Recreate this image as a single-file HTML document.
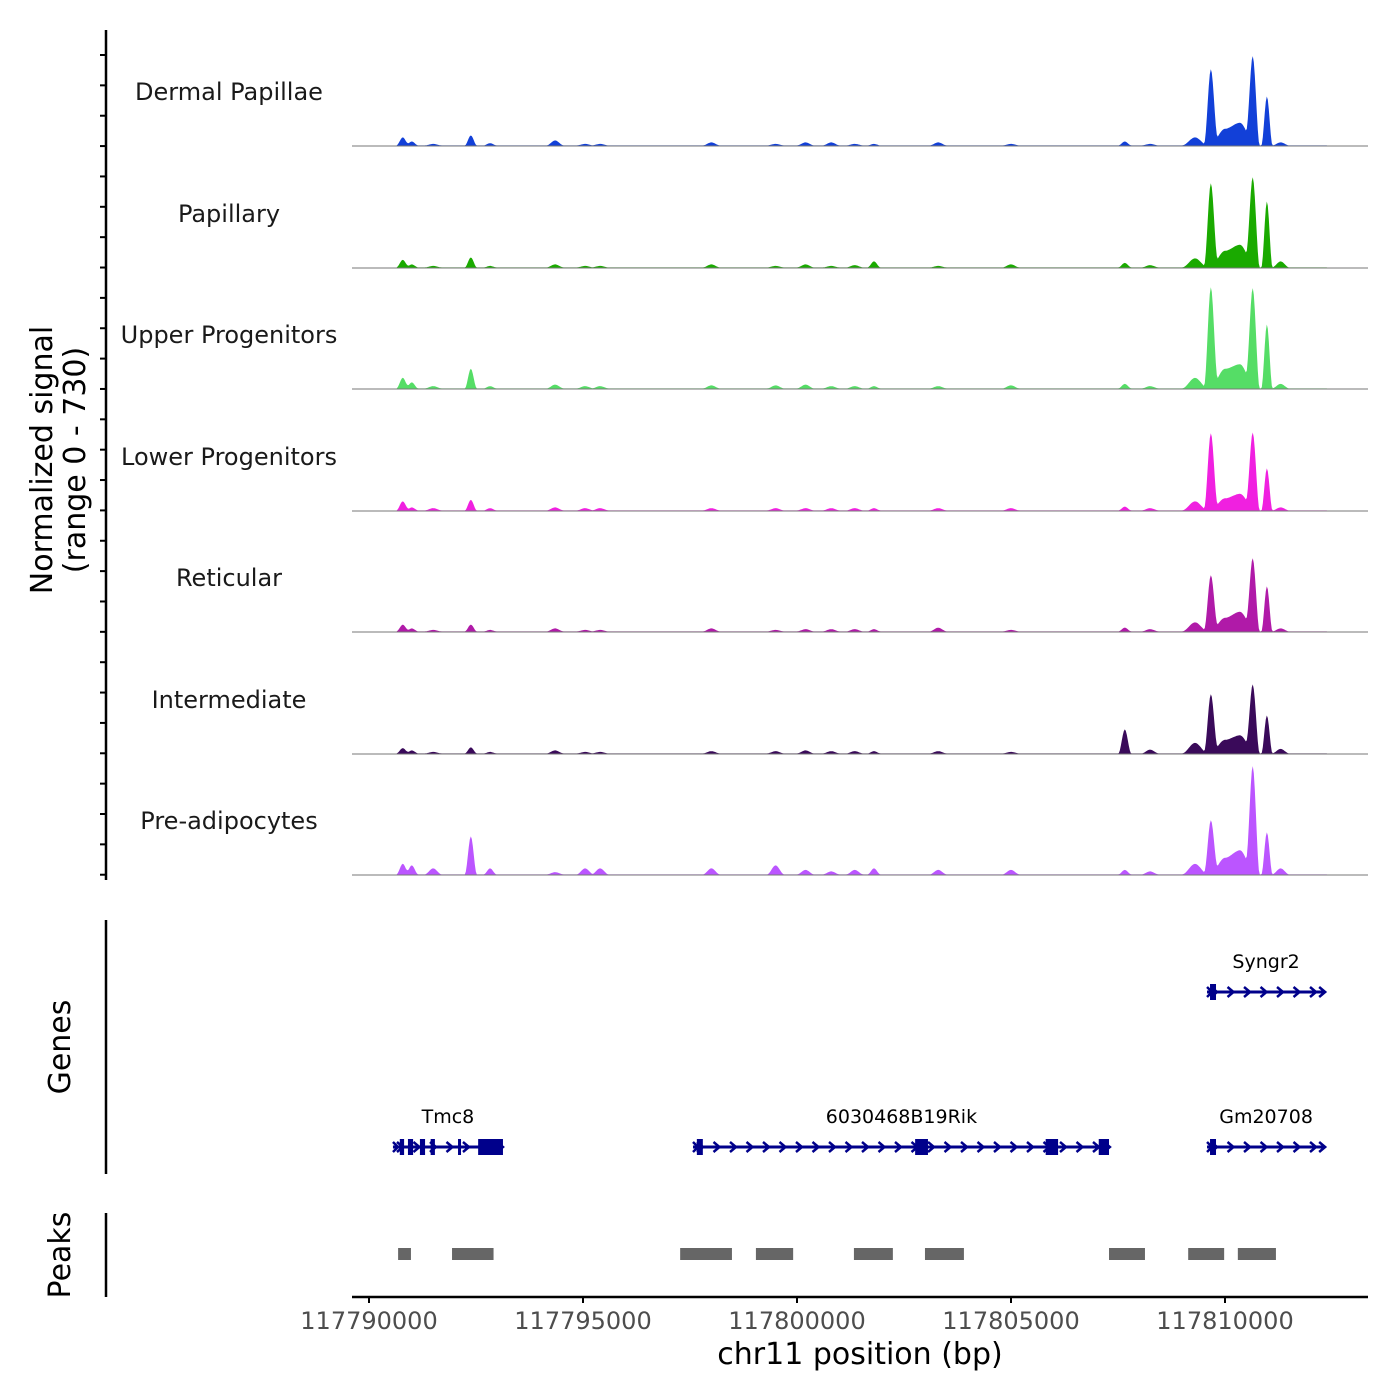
<!DOCTYPE html>
<html><head><meta charset="utf-8"><style>
body{margin:0;background:#fff;}
svg{display:block;font-family:"DejaVu Sans","Liberation Sans",sans-serif;}
</style></head><body>
<svg id="c" width="1400" height="1400" viewBox="0 0 1400 1400"></svg>
<script>
// ---- data ----
const trackNames = ["Dermal Papillae","Papillary","Upper Progenitors","Lower Progenitors","Reticular","Intermediate","Pre-adipocytes"];
const trackColors = ["#1240d8","#1aaa00","#55dd66","#f020e0","#b01aa8","#3a0a5a","#bb55ff"];
// peak positions in kb offset from 117790000
const peakPos = [0.79,1.0,1.5,2.38,2.83,4.35,5.05,5.4,8.0,9.5,10.2,10.8,11.35,11.8,13.3,15.0,17.66,18.25,19.3,19.67,20.0,20.35,20.65,20.98,21.3];
const peakWidth = [0.15,0.15,0.2,0.14,0.15,0.2,0.2,0.2,0.2,0.2,0.2,0.2,0.2,0.15,0.2,0.2,0.15,0.2,0.3,0.16,0.35,0.35,0.16,0.13,0.2];
const sigDermal = [53,26,10,66,15,33,10,10,20,10,20,20,10,10,20,10,26,10,53,504,110,150,584,325,20];
const sigPapillary = [50,20,10,66,10,20,10,10,20,10,20,10,15,40,10,20,30,15,60,557,110,150,590,438,40];
const sigUpper = [70,40,15,130,15,25,15,15,20,20,25,15,15,15,15,20,30,15,70,670,130,160,657,425,30];
const sigLower = [60,20,15,70,15,20,15,15,15,15,15,15,15,15,15,15,25,15,60,511,80,110,511,279,20];
const sigReticular = [45,20,10,45,10,20,10,10,20,10,15,15,15,15,25,10,25,15,60,372,90,130,478,299,20];
const sigIntermediate = [35,20,10,40,10,20,10,10,15,15,20,15,15,15,15,10,159,25,70,392,90,120,451,252,30];
const sigPreadipo = [70,60,40,252,40,15,40,40,40,60,30,20,30,40,30,30,30,20,70,358,110,160,710,279,40];
const trackSignals = [sigDermal,sigPapillary,sigUpper,sigLower,sigReticular,sigIntermediate,sigPreadipo];
const signalMax = 730;
const xTicks = [117790000,117795000,117800000,117805000,117810000];
const peakStarts = [0.68,1.94,7.27,9.04,11.33,12.99,17.29,19.14,20.3];
const peakEnds = [0.98,2.91,8.48,9.91,12.24,13.9,18.13,19.98,21.19];
const genes = [
 {name:"Tmc8",start:0.56,end:3.13,row:1,exS:[0.72,0.91,1.19,1.44,2.08,2.55],exE:[0.82,1.03,1.31,1.54,2.15,3.13]},
 {name:"6030468B19Rik",start:7.57,end:17.31,row:1,exS:[7.66,12.76,15.81,15.93,17.05],exE:[7.80,13.06,16.10,16.03,17.29]},
 {name:"Syngr2",start:19.58,end:22.34,row:0,exS:[19.65],exE:[19.79]},
 {name:"Gm20708",start:19.58,end:22.34,row:1,exS:[19.65],exE:[19.79]}
];
// ---- scales ----
const svg=document.getElementById('c');
const NS="http://www.w3.org/2000/svg";
const X0=369, PXKB=42.8;
function xs(kb){return X0+kb*PXKB;}
function xbp(bp){return xs((bp-117790000)/1000);}
const baselines=[146,268,389,511,632,754,875];
const HT=110;
function ys(v,i){return baselines[i]-v/signalMax*HT;}
function mk(tag,attrs,parent){const e=document.createElementNS(NS,tag);for(const k in attrs)e.setAttribute(k,attrs[k]);(parent||svg).appendChild(e);return e;}
function txt(s,attrs){const e=mk('text',attrs);e.textContent=s;return e;}

// tracks
trackNames.forEach((name,i)=>{
  const sig=trackSignals[i];
  let d="M"+xs(0.65)+","+baselines[i];
  for(let kb=0.65;kb<=22.4;kb+=1/PXKB){
    let v=4;
    for(let j=0;j<peakPos.length;j++){const t=1-Math.abs(kb-peakPos[j])/peakWidth[j];if(t>0)v+=sig[j]*t*t*(3-2*t);}
    d+=" L"+xs(kb).toFixed(1)+","+ys(v,i).toFixed(1);
  }
  d+=" L"+xs(22.4)+","+baselines[i]+" Z";
  const p=mk('path',{d:d,fill:trackColors[i]});
  
  
  const b=mk('line',{x1:352,x2:1368,y1:baselines[i],y2:baselines[i],stroke:'#777','stroke-width':1});
  
  
  const t=txt(name,{x:229,y:baselines[i]-46,'text-anchor':'middle','font-size':24,fill:'#1a1a1a'});
  
  
});
// left axis
mk('line',{x1:106,x2:106,y1:30,y2:880,stroke:'#000','stroke-width':2.5,});
for(let y=55;y<=880;y+=30.36){const tk=mk('line',{x1:100,x2:106,y1:y,y2:y,stroke:'#000','stroke-width':2});}
txt("Normalized signal",{transform:"translate(52,460) rotate(-90)",'text-anchor':'middle','font-size':30,});
txt("(range 0 - 730)",{transform:"translate(85,460) rotate(-90)",'text-anchor':'middle','font-size':30,});
// genes panel
mk('line',{x1:106,x2:106,y1:920,y2:1174,stroke:'#000','stroke-width':2.5,});
txt("Genes",{transform:"translate(70,1047) rotate(-90)",'text-anchor':'middle','font-size':30,});
const rowY=[992,1147];
genes.forEach(g=>{
  const y=rowY[g.row], c='#00008b';
  const grp=mk('g',{});
  
  
  mk('line',{x1:xs(g.start),x2:xs(g.end),y1:y,y2:y,stroke:c,'stroke-width':3},grp);
  for(let x=xs(g.start)+8;x<xs(g.end)-2;x+=16.5){mk('path',{d:`M${x-4},${y-5} L${x+2},${y} L${x-4},${y+5}`,fill:'none',stroke:c,'stroke-width':2.5},grp);}
  mk('path',{d:`M${xs(g.end)-6},${y-5} L${xs(g.end)},${y} L${xs(g.end)-6},${y+5}`,fill:'none',stroke:c,'stroke-width':2.5},grp);
  mk('path',{d:`M${xs(g.start)},${y-5} L${xs(g.start)+5},${y} L${xs(g.start)},${y+5}`,fill:'none',stroke:c,'stroke-width':2.5},grp);
  g.exS.forEach((s,k)=>{const w=Math.max(3,xs(g.exE[k])-xs(s));mk('rect',{x:xs(s),y:y-8,width:w,height:16,fill:c},grp);});
  const t=txt(g.name,{x:(xs(g.start)+xs(g.end))/2,y:y-24,'text-anchor':'middle','font-size':19,fill:'#000'});
  
  
});
// peaks panel
mk('line',{x1:106,x2:106,y1:1213,y2:1297,stroke:'#000','stroke-width':2.5,});
txt("Peaks",{transform:"translate(70,1255) rotate(-90)",'text-anchor':'middle','font-size':30,});
peakStarts.forEach((s,k)=>{
  const r=mk('rect',{x:xs(s),y:1248,width:xs(peakEnds[k])-xs(s),height:12,fill:'#666'});
  
  
});
// x axis
mk('line',{x1:352,x2:1368,y1:1297,y2:1297,stroke:'#000','stroke-width':2.5,});
xTicks.forEach(v=>{
  const tk=mk('line',{x1:xbp(v),x2:xbp(v),y1:1297,y2:1303,stroke:'#000','stroke-width':2});
  
  
  const t=txt(String(v),{x:xbp(v),y:1329,'text-anchor':'middle','font-size':24,fill:'#4d4d4d'});
  
  
});
txt("chr11 position (bp)",{x:860,y:1364,'text-anchor':'middle','font-size':30,});
</script>
</body></html>
